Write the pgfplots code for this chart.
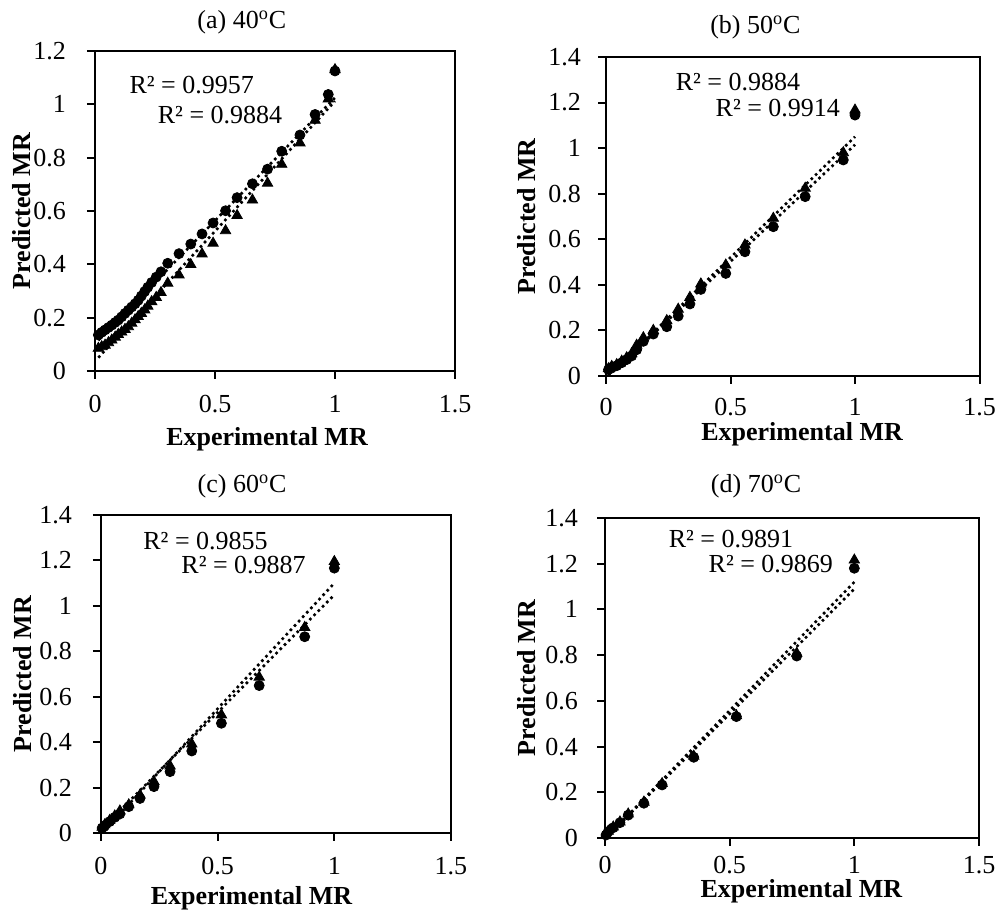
\documentclass[border=0pt]{standalone}
\usepackage{fontspec}
\setmainfont{Liberation Serif}
\usepackage{pgfplots}
\usepackage{pgfplotstable}
\pgfplotsset{compat=1.18}

% x = experimental MR, c = circles, t = triangles
\pgfplotstableread{
x     c     t
0.014 0.135 0.085
0.028 0.145 0.091
0.042 0.154 0.097
0.056 0.163 0.106
0.070 0.172 0.116
0.084 0.182 0.127
0.097 0.191 0.137
0.111 0.203 0.146
0.125 0.216 0.156
0.139 0.228 0.166
0.153 0.240 0.179
0.167 0.252 0.192
0.180 0.265 0.204
0.193 0.281 0.216
0.207 0.298 0.229
0.220 0.314 0.243
0.236 0.332 0.260
0.255 0.352 0.276
0.275 0.372 0.294
0.303 0.404 0.329
0.350 0.440 0.360
0.399 0.476 0.399
0.446 0.514 0.439
0.492 0.555 0.479
0.544 0.601 0.526
0.592 0.650 0.583
0.656 0.702 0.641
0.719 0.757 0.704
0.778 0.824 0.775
0.854 0.885 0.855
0.917 0.962 0.940
0.972 1.037 1.020
1.000 1.125 1.130
}\dataA

\pgfplotstableread{
x     c     t
0.010 0.028 0.032
0.023 0.038 0.042
0.043 0.045 0.050
0.063 0.058 0.065
0.083 0.072 0.080
0.103 0.088 0.098
0.123 0.115 0.135
0.150 0.152 0.168
0.190 0.184 0.200
0.244 0.216 0.243
0.290 0.263 0.293
0.337 0.316 0.345
0.381 0.380 0.404
0.481 0.450 0.487
0.558 0.545 0.575
0.672 0.655 0.692
0.800 0.787 0.824
0.953 0.948 0.980
1.000 1.145 1.167
}\dataB

\pgfplotstableread{
x     c     t
0.005 0.022 0.025
0.016 0.032 0.036
0.037 0.050 0.055
0.059 0.069 0.075
0.081 0.084 0.097
0.119 0.116 0.124
0.167 0.152 0.167
0.227 0.204 0.226
0.296 0.270 0.295
0.389 0.361 0.392
0.516 0.483 0.520
0.678 0.649 0.686
0.873 0.864 0.905
1.000 1.166 1.195
}\dataC

\pgfplotstableread{
x     c     t
0.004 0.013 0.015
0.013 0.028 0.030
0.033 0.045 0.048
0.060 0.067 0.070
0.093 0.100 0.105
0.156 0.152 0.157
0.229 0.232 0.238
0.356 0.353 0.358
0.527 0.531 0.535
0.769 0.796 0.808
1.000 1.180 1.216
}\dataD

\pgfplotsset{
  mrpanel/.style={
    scale only axis, clip=false,
    xmin=0, xmax=1.5, ymin=0,
    xtick={0,0.5,1,1.5},
    axis line style={line width=1pt},
    tick style={line width=1pt, black},
    tick align=outside, xtick pos=left, ytick pos=left,
    major tick length=4pt,
    /pgf/number format/assume math mode=true,
    xlabel={\bfseries Experimental MR},
    ylabel={\bfseries Predicted MR},
    every axis title/.style={anchor=center},
    xlabel style={anchor=center},
    ylabel style={anchor=center},
  },
  circ/.style={only marks, mark=*, mark size=2.5pt, black},
  tri/.style={only marks, mark=triangle*, mark size=3pt, black},
  trend/.style={black, line width=1.3pt, dash pattern=on 1.3pt off 1.7pt, no marks},
}

\begin{document}
\fontsize{13}{15.5}\selectfont
\begin{tikzpicture}
\useasboundingbox (0,0) rectangle (498pt,456.5pt);

% (a)
\begin{axis}[mrpanel, at={(47.5pt,271pt)}, anchor=south west,
  width=180pt, height=160pt, ymax=1.2, ytick={0,0.2,...,1.2},
  xticklabel shift=3.5pt, yticklabel shift=6pt,
  title={(a) 40\textsuperscript{o}C},
  title style={at={(axis description cs:0.408,1.091)}},
  xlabel style={at={(axis description cs:0.478,-0.2125)}},
  ylabel style={at={(axis description cs:-0.203,0.5)}}]
  \addplot[trend] coordinates {(0.014,0.115) (1.0,1.025)};
  \addplot[trend] coordinates {(0.014,0.050) (1.0,1.012)};
  \addplot[tri] table[x=x,y=t] {\dataA};
  \addplot[circ] table[x=x,y=c] {\dataA};
  \node at (axis cs:0.403,1.072) {R² = 0.9957};
  \node at (axis cs:0.521,0.960) {R² = 0.9884};
\end{axis}

% (b)
\begin{axis}[mrpanel, at={(303pt,268.5pt)}, anchor=south west,
  width=186.75pt, height=159.5pt, ymax=1.4, ytick={0,0.2,...,1.4},
  xticklabel shift=2.5pt, yticklabel shift=4pt,
  title={(b) 50\textsuperscript{o}C},
  title style={at={(axis description cs:0.4,1.094)}},
  xlabel style={at={(axis description cs:0.525,-0.182)}},
  ylabel style={at={(axis description cs:-0.212,0.5)}}]
  \addplot[trend] coordinates {(0.01,0.0) (1.0,1.05)};
  \addplot[trend] coordinates {(0.01,0.0) (1.0,1.015)};
  \addplot[tri] table[x=x,y=t] {\dataB};
  \addplot[circ] table[x=x,y=c] {\dataB};
  \node at (axis cs:0.53,1.29) {R² = 0.9884};
  \node at (axis cs:0.69,1.176) {R² = 0.9914};
\end{axis}

% (c)
\begin{axis}[mrpanel, at={(50.5pt,40pt)}, anchor=south west,
  width=175pt, height=159pt, ymax=1.4, ytick={0,0.2,...,1.4},
  xticklabel shift=3.5pt, yticklabel shift=6pt,
  title={(c) 60\textsuperscript{o}C},
  title style={at={(axis description cs:0.403,1.091)}},
  xlabel style={at={(axis description cs:0.43,-0.206)}},
  ylabel style={at={(axis description cs:-0.223,0.5)}}]
  \addplot[trend] coordinates {(0.005,0.0) (1.0,1.1)};
  \addplot[trend] coordinates {(0.005,0.02) (1.0,1.048)};
  \addplot[tri] table[x=x,y=t] {\dataC};
  \addplot[circ] table[x=x,y=c] {\dataC};
  \node at (axis cs:0.448,1.286) {R² = 0.9855};
  \node at (axis cs:0.611,1.180) {R² = 0.9887};
\end{axis}

% (d)
\begin{axis}[mrpanel, at={(302.5pt,37.5pt)}, anchor=south west,
  width=187pt, height=160pt, ymax=1.4, ytick={0,0.2,...,1.4},
  xticklabel shift=0.5pt, yticklabel shift=5pt,
  title={(d) 70\textsuperscript{o}C},
  title style={at={(axis description cs:0.404,1.1)}},
  xlabel style={at={(axis description cs:0.525,-0.166)}},
  ylabel style={at={(axis description cs:-0.209,0.5)}}]
  \addplot[trend] coordinates {(0.004,0.0) (1.0,1.12)};
  \addplot[trend] coordinates {(0.004,0.0) (1.0,1.09)};
  \addplot[tri] table[x=x,y=t] {\dataD};
  \addplot[circ] table[x=x,y=c] {\dataD};
  \node at (axis cs:0.505,1.307) {R² = 0.9891};
  \node at (axis cs:0.665,1.2) {R² = 0.9869};
\end{axis}
\end{tikzpicture}
\end{document}
